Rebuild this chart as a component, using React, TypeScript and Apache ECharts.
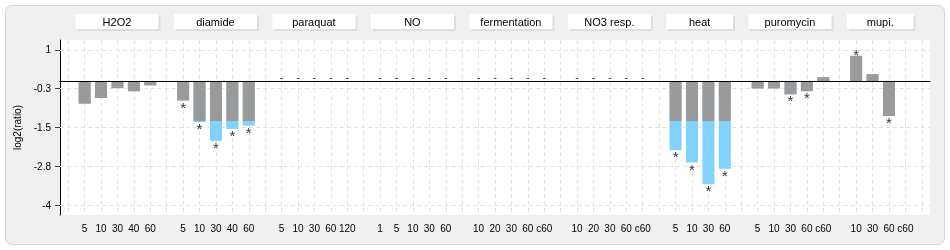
import React, { useEffect, useRef } from "react";
import * as echarts from "echarts";

const groupNames = ["H2O2", "diamide", "paraquat", "NO", "fermentation", "NO3 resp.", "heat", "puromycin", "mupi."];
const groupTimes = [
  ["5", "10", "30", "40", "60"],
  ["5", "10", "30", "40", "60"],
  ["5", "10", "30", "60", "120"],
  ["1", "5", "10", "30", "60"],
  ["10", "20", "30", "60", "c60"],
  ["10", "20", "30", "60", "c60"],
  ["5", "10", "30", "60"],
  ["5", "10", "30", "60", "c60"],
  ["10", "30", "60", "c60"],
];
const groupValues: (number | null)[][] = [
  [-0.73, -0.55, -0.23, -0.33, -0.14],
  [-0.63, -1.33, -1.93, -1.55, -1.44],
  [null, null, null, null, null],
  [null, null, null, null, null],
  [null, null, null, null, null],
  [null, null, null, null, null],
  [-2.23, -2.63, -3.33, -2.83],
  [-0.24, -0.24, -0.43, -0.33, 0.12],
  [0.81, 0.22, -1.13, -0.03],
];
const groupSignificant = [
  [0, 0, 0, 0, 0],
  [1, 1, 1, 1, 1],
  [0, 0, 0, 0, 0],
  [0, 0, 0, 0, 0],
  [0, 0, 0, 0, 0],
  [0, 0, 0, 0, 0],
  [1, 1, 1, 1],
  [0, 0, 1, 1, 0],
  [1, 0, 1, 0],
];
const yTickValues = [1, -0.25, -1.5, -2.75, -4];
const threshold = -1.29;

const FONT = "'Liberation Sans', Arial, sans-serif";
const W = 950;
const H = 250;
const GRID = { left: 60, top: 40, right: 20, bottom: 35 };

function buildOption() {
  const categories: string[] = [""];
  const values: (number | null | undefined)[] = [undefined];
  const sig: number[] = [0];
  const groupStart: number[] = [];
  groupNames.forEach((_, g) => {
    groupStart.push(categories.length);
    groupTimes[g].forEach((t, i) => {
      categories.push(t);
      values.push(groupValues[g][i]);
      sig.push(groupSignificant[g][i]);
    });
    categories.push("");
    values.push(undefined);
    sig.push(0);
  });

  const plotW = W - GRID.left - GRID.right;
  const plotH = H - GRID.top - GRID.bottom;
  const band = plotW / categories.length;

  const fullData = values.map((v) => (v == null ? "-" : v));
  const grayData = values.map((v) => (v == null ? "-" : v < threshold ? threshold : v));

  const markData: any[] = [];
  values.forEach((v, i) => {
    if (v === null) {
      markData.push({
        value: [i, 0],
        label: { show: true, formatter: "-", fontSize: 11, offset: [0, -4] },
      });
    } else if (typeof v === "number" && sig[i]) {
      markData.push({
        value: [i, v],
        label: { show: true, formatter: "*", offset: [0, v < 0 ? 6.5 : -1.5] },
      });
    }
  });

  const graphics: any[] = [
    {
      type: "rect",
      z: -20,
      silent: true,
      shape: { x: 5.5, y: 5.5, width: 939, height: 239, r: 6 },
      style: { fill: "#f0f0f0", stroke: "#d6d6d6", lineWidth: 1 },
    },
    {
      type: "rect",
      z: -19,
      silent: true,
      shape: { x: GRID.left, y: GRID.top, width: plotW, height: plotH },
      style: { fill: "#ffffff" },
    },
  ];
  groupNames.forEach((name, g) => {
    const n = groupTimes[g].length;
    const x = GRID.left + groupStart[g] * band - 1;
    const w = n * band + 1;
    graphics.push({
      type: "rect",
      z: -18,
      silent: true,
      shape: { x: x + 2, y: 16, width: w, height: 15 },
      style: { fill: "#dedede" },
    });
    graphics.push({
      type: "rect",
      z: -17,
      silent: true,
      shape: { x: x, y: 14, width: w, height: 15 },
      style: { fill: "#ffffff" },
    });
    graphics.push({
      type: "text",
      z: -16,
      silent: true,
      x: x + w / 2,
      y: 21.5,
      style: {
        text: name,
        fill: "#000",
        font: `11px ${FONT}`,
        align: "center",
        verticalAlign: "middle",
      },
    });
  });

  const gridLineStyle = { color: "#e2e2e2", type: [4, 3], width: 1 };

  return {
    animation: false,
    textStyle: { fontFamily: FONT },
    graphic: graphics,
    grid: { ...GRID, show: false },
    xAxis: {
      type: "category",
      data: categories,
      boundaryGap: true,
      axisLine: { lineStyle: { color: "#000", width: 1 } },
      axisTick: {
        alignWithLabel: true,
        length: 5,
        interval: (_i: number, v: string) => v !== "",
        lineStyle: { color: "#000" },
      },
      axisLabel: { interval: 0, color: "#000", fontSize: 10, fontFamily: FONT, margin: 8 },
      splitLine: {
        show: true,
        interval: 0,
        alignWithLabel: true,
        lineStyle: gridLineStyle,
      },
    },
    yAxis: {
      type: "value",
      min: -4.32,
      max: 1.32,
      name: "log2(ratio)",
      nameLocation: "middle",
      nameGap: 30,
      nameTextStyle: { color: "#000", fontSize: 10, fontFamily: FONT },
      axisLine: { show: true, lineStyle: { color: "#000", width: 1 } },
      axisTick: { show: true, length: 5, customValues: yTickValues, lineStyle: { color: "#444" } },
      axisLabel: {
        customValues: yTickValues,
        color: "#000",
        fontSize: 10,
        fontFamily: FONT,
        margin: 9,
        formatter: (v: number) => (Number.isInteger(v) ? String(v) : v.toFixed(1)),
      },
      splitLine: { show: false },
    },
    series: [
      {
        type: "line",
        name: "grid",
        data: [],
        z: 1,
        silent: true,
        markLine: {
          z: 1,
          silent: true,
          symbol: ["none", "none"],
          label: { show: false },
          lineStyle: gridLineStyle,
          data: yTickValues.map((v) => ({ yAxis: v })),
        },
      },
      {
        type: "bar",
        name: "full",
        data: fullData,
        barWidth: 12,
        z: 2,
        itemStyle: { color: "#82d2fe" },
        silent: true,
      },
      {
        type: "bar",
        name: "base",
        data: grayData,
        barWidth: 12,
        barGap: "-100%",
        z: 2,
        itemStyle: { color: "#9a9a9a" },
        silent: true,
        markLine: {
          silent: true,
          symbol: ["none", "none"],
          label: { show: false },
          lineStyle: { color: "#000", type: "solid", width: 1 },
          data: [{ yAxis: 0 }],
        },
      },
      {
        type: "scatter",
        name: "marks",
        data: markData,
        symbol: "circle",
        symbolSize: 1,
        z: 3,
        itemStyle: { color: "rgba(0,0,0,0)" },
        silent: true,
        label: {
          show: true,
          position: "inside",
          color: "#000",
          fontSize: 15,
          fontFamily: FONT,
        },
      },
    ],
  };
}

export default function App() {
  const ref = useRef<HTMLDivElement>(null);
  useEffect(() => {
    if (!ref.current) return;
    const chart = echarts.init(ref.current, null, { renderer: "svg" });
    chart.setOption(buildOption() as any);
    return () => chart.dispose();
  }, []);
  return <div ref={ref} style={{ position: "fixed", left: 0, top: 0, width: W, height: H }} />;
}
